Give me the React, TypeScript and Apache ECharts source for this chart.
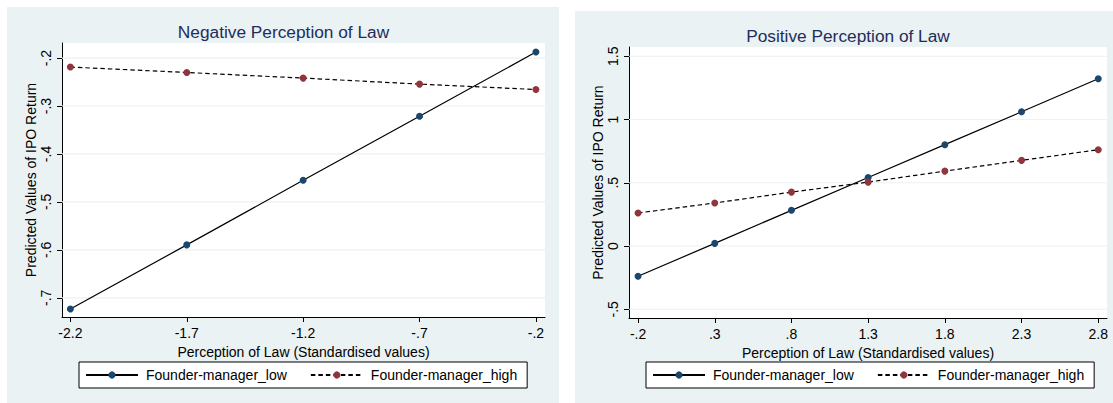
import React, { useEffect, useRef } from "react";
import * as echarts from "echarts";

const FONT = "'Liberation Sans', Arial, Helvetica, sans-serif";
const NAVY = "#1a476f";
const MAROON = "#90353b";
const BG = "#eaf2f3";
const TITLE_COLOR = "#1e2d5c";

const SERIES_LOW = "Founder-manager_low";
const SERIES_HIGH = "Founder-manager_high";

// Negative perception panel
const negX = [-2.2, -1.7, -1.2, -0.7, -0.2];
const negLow = [-0.7234, -0.5896, -0.455, -0.3212, -0.1875];
const negHigh = [-0.2188, -0.2301, -0.2418, -0.2543, -0.2656];
const negYTicks = [-0.7, -0.6, -0.5, -0.4, -0.3, -0.2];
const negXRange = [-2.236, -0.161];
const negYRange = [-0.74, -0.1686];

// Positive perception panel
const posX = [-0.2, 0.3, 0.8, 1.3, 1.8, 2.3, 2.8];
const posLow = [-0.239, 0.021, 0.282, 0.542, 0.801, 1.061, 1.322];
const posHigh = [0.261, 0.34, 0.426, 0.505, 0.592, 0.677, 0.761];
const posYTicks = [-0.5, 0, 0.5, 1, 1.5];
const posXRange = [-0.259, 2.857];
const posYRange = [-0.569, 1.573];

const TITLE_NEG = "Negative Perception of Law";
const TITLE_POS = "Positive Perception of Law";
const X_NAME = "Perception of Law (Standardised values)";
const Y_NAME = "Predicted Values of IPO Return";

function stataFmt(v: number): string {
  const n = Number(Number(v).toFixed(2));
  let s = String(n);
  s = s.replace(/^0\./, ".").replace(/^-0\./, "-.");
  return s;
}

function makeXAxis(gridIndex: number, range: number[], ticks: number[]) {
  return {
    gridIndex,
    type: "value",
    min: range[0],
    max: range[1],
    axisLine: { show: true, onZero: false, lineStyle: { color: "#000", width: 1 } },
    axisTick: { show: true, customValues: ticks, length: 5, lineStyle: { color: "#000" } },
    axisLabel: {
      customValues: ticks,
      formatter: (v: number) => stataFmt(v),
      fontSize: 14,
      color: "#000",
      fontFamily: FONT,
      margin: 9,
    },
    splitLine: { show: false },
    name: X_NAME,
    nameLocation: "middle",
    nameGap: 23,
    nameTextStyle: { fontSize: 14, color: "#000", fontFamily: FONT },
  };
}

function makeYAxis(gridIndex: number, range: number[], ticks: number[]) {
  return {
    gridIndex,
    type: "value",
    min: range[0],
    max: range[1],
    axisLine: { show: true, onZero: false, lineStyle: { color: "#000", width: 1 } },
    axisTick: { show: true, customValues: ticks, length: 5, lineStyle: { color: "#000" } },
    axisLabel: {
      customValues: ticks,
      formatter: (v: number) => stataFmt(v),
      fontSize: 14,
      color: "#000",
      fontFamily: FONT,
      rotate: 90,
      margin: 9,
    },
    splitLine: { show: false },
    name: Y_NAME,
    nameLocation: "middle",
    nameGap: 22,
    nameTextStyle: { fontSize: 14, color: "#000", fontFamily: FONT },
  };
}

function pairs(xs: number[], ys: number[]) {
  return xs.map((x, i) => [x, ys[i]]);
}

function gridSeries(idx: number, ticks: number[], xRange: number[]) {
  return ticks.map((t) => ({
    type: "line",
    name: "grid" + idx + "_" + t,
    xAxisIndex: idx,
    yAxisIndex: idx,
    data: [
      [xRange[0], t],
      [xRange[1], t],
    ],
    z: 1,
    silent: true,
    symbol: "none",
    lineStyle: { color: BG, width: 1.2, type: "solid" },
    emphasis: { disabled: true },
  }));
}

function dataSeries(idx: number, name: string, xs: number[], ys: number[], color: string, dashed: boolean) {
  return {
    type: "line",
    name,
    xAxisIndex: idx,
    yAxisIndex: idx,
    data: pairs(xs, ys),
    z: 3,
    symbol: "circle",
    symbolSize: 7,
    showSymbol: true,
    itemStyle: { color, borderWidth: 0 },
    lineStyle: { color: "#000", width: 1.2, type: dashed ? [4.5, 3] : "solid" },
    emphasis: { disabled: true },
  };
}

function legend(left: number) {
  return {
    left,
    top: 362,
    orient: "horizontal",
    data: [SERIES_LOW, SERIES_HIGH],
    itemWidth: 52,
    itemHeight: 9,
    itemGap: 23,
    padding: [6, 10, 6, 6],
    borderColor: "#000",
    borderWidth: 1,
    backgroundColor: "#fff",
    borderRadius: 0,
    selectedMode: false,
    textStyle: { fontSize: 14, color: "#000", fontFamily: FONT, padding: [0, 0, 0, 3] },
  };
}

export default function App() {
  const ref = useRef<HTMLDivElement>(null);
  useEffect(() => {
    if (!ref.current) return;
    const chart = echarts.init(ref.current, null, { renderer: "svg" });
    chart.setOption({
      animation: false,
      backgroundColor: "#fff",
      graphic: [
        { type: "rect", z: -10, shape: { x: 7, y: 7, width: 552, height: 396 }, style: { fill: BG } },
        { type: "rect", z: -10, shape: { x: 575, y: 11, width: 538, height: 392 }, style: { fill: BG } },
        {
          type: "text",
          x: 283.5,
          y: 32,
          style: { text: TITLE_NEG, fill: TITLE_COLOR, fontSize: 17.3, fontFamily: FONT, textAlign: "center", textVerticalAlign: "middle" },
        },
        {
          type: "text",
          x: 848,
          y: 35.5,
          style: { text: TITLE_POS, fill: TITLE_COLOR, fontSize: 17.3, fontFamily: FONT, textAlign: "center", textVerticalAlign: "middle" },
        },
      ],
      grid: [
        { left: 62, top: 43, width: 483, height: 274, show: true, backgroundColor: "#fff", borderWidth: 0, containLabel: false },
        { left: 629, top: 47, width: 478, height: 271, show: true, backgroundColor: "#fff", borderWidth: 0, containLabel: false },
      ],
      xAxis: [makeXAxis(0, negXRange, negX), makeXAxis(1, posXRange, posX)],
      yAxis: [makeYAxis(0, negYRange, negYTicks), makeYAxis(1, posYRange, posYTicks)],
      legend: [legend(79), legend(646)],
      series: [
        ...gridSeries(0, negYTicks, negXRange),
        ...gridSeries(1, posYTicks, posXRange),
        dataSeries(0, SERIES_LOW, negX, negLow, NAVY, false),
        dataSeries(0, SERIES_HIGH, negX, negHigh, MAROON, true),
        dataSeries(1, SERIES_LOW, posX, posLow, NAVY, false),
        dataSeries(1, SERIES_HIGH, posX, posHigh, MAROON, true),
      ],
    });
    return () => chart.dispose();
  }, []);
  return (
    <div
      ref={ref}
      style={{ position: "absolute", left: 0, top: 0, width: 1113, height: 403 }}
    />
  );
}
